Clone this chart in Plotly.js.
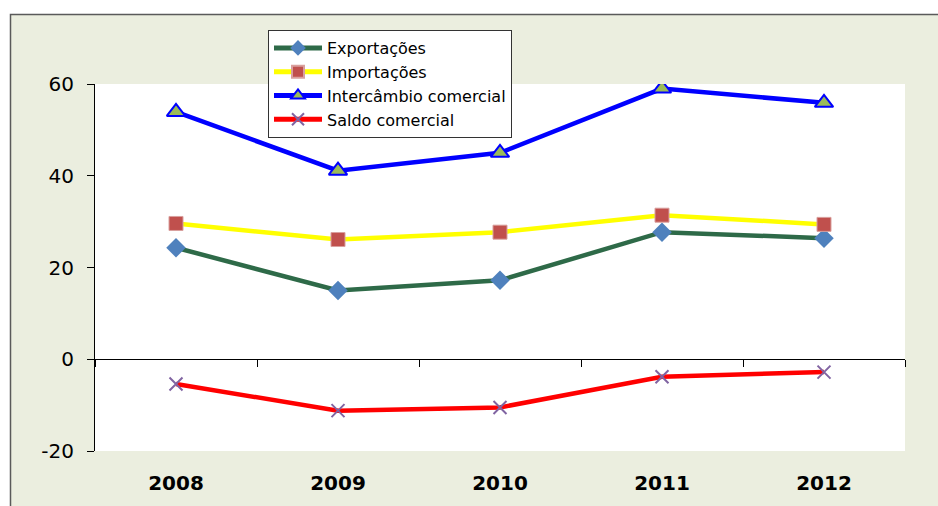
<!DOCTYPE html>
<html>
<head>
<meta charset="utf-8">
<script src="https://cdn.plot.ly/plotly-3.0.1.min.js"></script>
<style>
  html, body { margin: 0; padding: 0; background: #ffffff; }
  #chart { width: 938px; height: 506px; }
</style>
</head>
<body>
<div id="chart"></div>
<script>
const years = ['2008', '2009', '2010', '2011', '2012'];
const exportacoes = [24.3, 15.0, 17.2, 27.7, 26.4];
const importacoes = [29.6, 26.1, 27.7, 31.4, 29.4];
const intercambio = [53.9, 41.1, 45.0, 59.0, 55.9];
const saldo = [-5.4, -11.2, -10.5, -3.8, -2.8];
const yTicks = [-20, 0, 20, 40, 60];

const L = 95, R = 905, T = 84, B = 451, W = 938, H = 506;
const px = v => (v - L) / (R - L);
const py = v => (B - v) / (B - T);

const traces = [
  { x: years, y: exportacoes, name: 'Exportações', type: 'scatter', mode: 'lines+markers',
    line: { color: '#2E6A48', width: 4.5 },
    marker: { symbol: 'diamond', size: 15, color: '#4F81BD', line: { width: 0 } } },
  { x: years, y: importacoes, name: 'Importações', type: 'scatter', mode: 'lines+markers',
    line: { color: '#FFFF00', width: 4.5 },
    marker: { symbol: 'square', size: 14, color: '#C0504D', line: { color: '#D9A09E', width: 1 } } },
  { x: years, y: intercambio, name: 'Intercâmbio comercial', type: 'scatter', mode: 'lines+markers',
    line: { color: '#0000FF', width: 4.5 },
    marker: { symbol: 'triangle-up', size: 16, color: '#9BBB59', line: { color: '#0000FF', width: 2 } } },
  { x: years, y: saldo, name: 'Saldo comercial', type: 'scatter', mode: 'lines+markers', xaxis: 'x2',
    line: { color: '#FF0000', width: 4.5 },
    marker: { symbol: 'x-thin', size: 13, color: '#8064A2', line: { color: '#8064A2', width: 2 } } }
];

const layout = {
  width: W, height: H,
  margin: { l: L, r: W - R, t: T, b: H - B, pad: 0 },
  paper_bgcolor: '#FFFFFF',
  plot_bgcolor: '#FFFFFF',
  showlegend: true,
  font: { family: 'DejaVu Sans, Verdana, sans-serif', color: '#000000' },
  xaxis: {
    type: 'category', categoryarray: years, range: [-0.5, 4.5],
    showline: false, showgrid: false, zeroline: false, ticks: '',
    ticklabelstandoff: 18,
    tickfont: { family: 'DejaVu Sans, Verdana, sans-serif', size: 20, weight: 'bold', color: '#000000' },
    fixedrange: true
  },
  xaxis2: {
    type: 'category', categoryarray: years, range: [-0.5, 4.5],
    overlaying: 'x', anchor: 'free', position: py(359), side: 'bottom',
    showline: true, linecolor: '#000000', linewidth: 1,
    ticks: 'outside', tickson: 'boundaries', ticklen: 7, tickcolor: '#000000', tickwidth: 1,
    showticklabels: false, showgrid: false, zeroline: false
  },
  yaxis: {
    range: [-20, 60], tickvals: yTicks, ticktext: yTicks.map(String),
    showline: true, linecolor: '#000000', linewidth: 1,
    ticks: 'outside', ticklen: 7, tickcolor: '#000000', tickwidth: 1,
    showgrid: false, zeroline: false,
    ticklabelstandoff: 9,
    tickfont: { family: 'DejaVu Sans, Verdana, sans-serif', size: 20, color: '#000000' }
  },
  legend: {
    x: px(268), y: py(30), xanchor: 'left', yanchor: 'top',
    bgcolor: '#FFFFFF', bordercolor: '#333333', borderwidth: 1,
    font: { family: 'DejaVu Sans, Verdana, sans-serif', size: 16, color: '#000000' },
    itemwidth: 48, itemsizing: 'constant', tracegroupgap: 0
  },
  shapes: [
    { type: 'rect', xref: 'paper', yref: 'paper', layer: 'below',
      x0: px(10.5), x1: px(960), y0: py(530), y1: py(14.5),
      fillcolor: '#EBEEDF', line: { color: '#5A5A5A', width: 1.5 } },
    { type: 'rect', xref: 'paper', yref: 'paper', layer: 'below',
      x0: 0, x1: 1, y0: 0, y1: 1,
      fillcolor: '#FFFFFF', line: { width: 0 } }
  ]
};

Plotly.newPlot('chart', traces, layout, { displayModeBar: false, staticPlot: true });
</script>
</body>
</html>
